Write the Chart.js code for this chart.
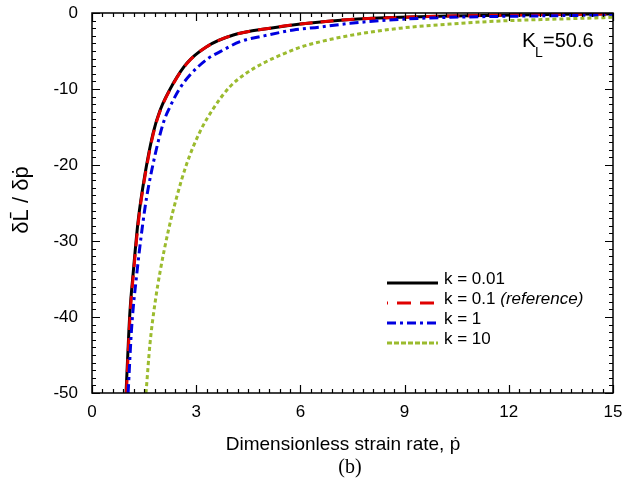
<!DOCTYPE html>
<html><head><meta charset="utf-8">
<script src="https://cdn.jsdelivr.net/npm/chart.js@4"></script>
<style>html,body{margin:0;padding:0;background:#fff}#wrap{width:625px;height:500px}</style>
</head><body><div id="wrap"><canvas id="c" width="625" height="500"></canvas></div>
<script>
// Data
const seriesLabels = ["k = 0.01", "k = 0.1", "k = 1", "k = 10"];
const pK001 = [0.98, 1.03, 1.09, 1.19, 1.33, 1.53, 1.76, 1.96, 2.34, 2.73, 3.3, 4.07, 5.13, 6.0, 7.43, 8.87, 10.3, 11.75, 13.5, 15.0];
const yK001 = [-50, -45, -39.5, -34, -27.3, -21.1, -15.8, -12.8, -9.25, -6.6, -4.43, -2.9, -2.0, -1.45, -0.85, -0.57, -0.4, -0.28, -0.18, -0.12];
const pK01  = [0.99, 1.04, 1.10, 1.20, 1.34, 1.54, 1.77, 1.97, 2.35, 2.74, 3.3, 4.07, 5.13, 6.0, 7.43, 8.87, 10.3, 11.75, 13.5, 15.0];
const yK01  = [-50, -45, -39.5, -34, -27.3, -21.1, -15.8, -12.8, -9.25, -6.6, -4.43, -2.9, -2.0, -1.45, -0.85, -0.57, -0.4, -0.28, -0.18, -0.12];
const pK1   = [1.04, 1.14, 1.29, 1.53, 1.72, 2.05, 2.25, 2.53, 2.82, 3.35, 3.69, 4.26, 4.93, 5.8, 6.56, 7.43, 8.87, 10.31, 12.7, 15.0];
const yK1   = [-50, -41.5, -34.3, -25.5, -20.7, -14.5, -12.3, -9.9, -8.16, -5.96, -5.09, -3.77, -3.03, -2.24, -1.85, -1.36, -0.83, -0.57, -0.39, -0.26];
const pK10  = [1.555, 1.67, 1.81, 1.97, 2.2, 2.44, 2.73, 3.11, 3.49, 3.97, 4.45, 4.93, 5.6, 6.0, 6.56, 7.43, 8.87, 10.31, 11.75, 13.48, 15.0];
const yK10  = [-50, -43.5, -38.3, -33.8, -28.6, -24.2, -19.8, -15.6, -12.6, -9.7, -7.9, -6.6, -5.2, -4.5, -3.8, -2.95, -2.0, -1.45, -1.05, -0.79, -0.57];
const xTicks = [0, 3, 6, 9, 12, 15];
const yTicks = [-50, -40, -30, -20, -10, 0];

const toPts = (xs, ys) => xs.map((x, i) => ({x: x, y: ys[i]}));
const colors = ["#000000", "#e00000", "#0000e0", "#9bbb2e"];
const dashes = [[], [13, 8], [9, 4, 3, 4], [4, 3]];
const FONT = '"Liberation Sans", Arial, sans-serif';

const boxTicks = {
  id: 'boxTicks',
  afterDatasetsDraw(chart) {
    const {ctx, chartArea: a, scales: {x, y}} = chart;
    ctx.save();
    ctx.strokeStyle = '#000';
    ctx.lineWidth = 1.2;
    ctx.setLineDash([]);
    ctx.beginPath();
    for (let i = 0; i <= 50; i++) {
      const v = i * 0.3;
      const px = Math.round(x.getPixelForValue(v)) + 0.5;
      const len = (i % 10 === 0) ? 8 : 4;
      ctx.moveTo(px, a.bottom); ctx.lineTo(px, a.bottom - len);
      ctx.moveTo(px, a.top); ctx.lineTo(px, a.top + len);
    }
    for (let i = 0; i <= 50; i++) {
      const v = -i;
      const py = Math.round(y.getPixelForValue(v)) + 0.5;
      const len = (i % 10 === 0) ? 8 : 4;
      ctx.moveTo(a.left, py); ctx.lineTo(a.left + len, py);
      ctx.moveTo(a.right, py); ctx.lineTo(a.right - len, py);
    }
    ctx.stroke();
    ctx.lineWidth = 1.5;
    ctx.strokeRect(a.left, a.top, a.right - a.left, a.bottom - a.top);

    // legend
    const lx0 = 387, lx1 = 438, tx = 444;
    const rows = [280, 300, 320, 340];
    ctx.textBaseline = 'middle';
    ctx.fillStyle = '#000';
    for (let i = 0; i < 4; i++) {
      ctx.strokeStyle = colors[i];
      ctx.lineWidth = 3;
      ctx.setLineDash(i === 1 ? [14, 9] : (i === 3 ? [5, 2] : dashes[i]));
      ctx.lineDashOffset = (i === 1) ? -10 : 0;
      ctx.beginPath();
      ctx.moveTo(lx0, rows[i] + 3); ctx.lineTo(lx1, rows[i] + 3);
      ctx.stroke();
      ctx.setLineDash([]);
      ctx.font = '17px ' + FONT;
      ctx.fillText(seriesLabels[i], tx, rows[i] - 1);
      if (i === 1) {
        const w = ctx.measureText(seriesLabels[i] + ' ').width;
        ctx.font = 'italic 17px ' + FONT;
        ctx.fillText('(reference)', tx + w, rows[i] - 1);
      }
    }

    // K_L annotation
    ctx.textBaseline = 'alphabetic';
    ctx.font = '21px ' + FONT;
    ctx.fillText('K', 522, 47);
    ctx.font = '14px ' + FONT;
    ctx.fillText('L', 535, 57);
    ctx.font = '20px ' + FONT;
    ctx.fillText('=50.6', 543, 47);

    // axis titles
    ctx.textAlign = 'center';
    ctx.textBaseline = 'middle';
    ctx.font = '19px ' + FONT;
    ctx.fillText('Dimensionless strain rate, p\u0307', 343, 445);
    ctx.font = '20px "Liberation Serif", "DejaVu Serif", serif';
    ctx.fillText('(b)', 350, 468);
    ctx.save();
    ctx.translate(22, 200);
    ctx.rotate(-Math.PI / 2);
    ctx.font = '22px ' + FONT;
    ctx.fillText('\u03b4L\u0304 / \u03b4p\u0307', 0, 0);
    ctx.restore();
    ctx.restore();
  }
};

new Chart(document.getElementById('c'), {
  type: 'line',
  data: {
    datasets: [
      {label: seriesLabels[0], data: toPts(pK001, yK001), borderColor: colors[0], borderWidth: 3, borderDash: dashes[0], order: 4},
      {label: seriesLabels[1], data: toPts(pK01, yK01), borderColor: colors[1], borderWidth: 3, borderDash: dashes[1], order: 3},
      {label: seriesLabels[2], data: toPts(pK1, yK1), borderColor: colors[2], borderWidth: 3, borderDash: dashes[2], order: 2},
      {label: seriesLabels[3], data: toPts(pK10, yK10), borderColor: colors[3], borderWidth: 3, borderDash: dashes[3], order: 1}
    ]
  },
  options: {
    responsive: false,
    animation: false,
    layout: {padding: {left: 0, top: 13, right: 12, bottom: 0}},
    elements: {point: {radius: 0}, line: {cubicInterpolationMode: 'monotone', fill: false}},
    plugins: {legend: {display: false}, tooltip: {enabled: false}},
    scales: {
      x: {
        type: 'linear', min: 0, max: 15,
        afterBuildTicks: s => { s.ticks = xTicks.map(v => ({value: v})); },
        afterFit: s => { s.height = 107; s.paddingLeft = 0; s.paddingRight = 0; },
        grid: {display: false, drawTicks: false},
        border: {display: false},
        ticks: {padding: 9, color: '#000', font: {family: FONT, size: 17}, maxRotation: 0}
      },
      y: {
        type: 'linear', min: -50, max: 0,
        afterBuildTicks: s => { s.ticks = yTicks.map(v => ({value: v})); },
        afterFit: s => { s.width = 92; s.paddingTop = 0; s.paddingBottom = 0; },
        grid: {display: false, drawTicks: false},
        border: {display: false},
        ticks: {padding: 14, color: '#000', font: {family: FONT, size: 17}}
      }
    }
  },
  plugins: [boxTicks]
});
</script>
</body></html>
